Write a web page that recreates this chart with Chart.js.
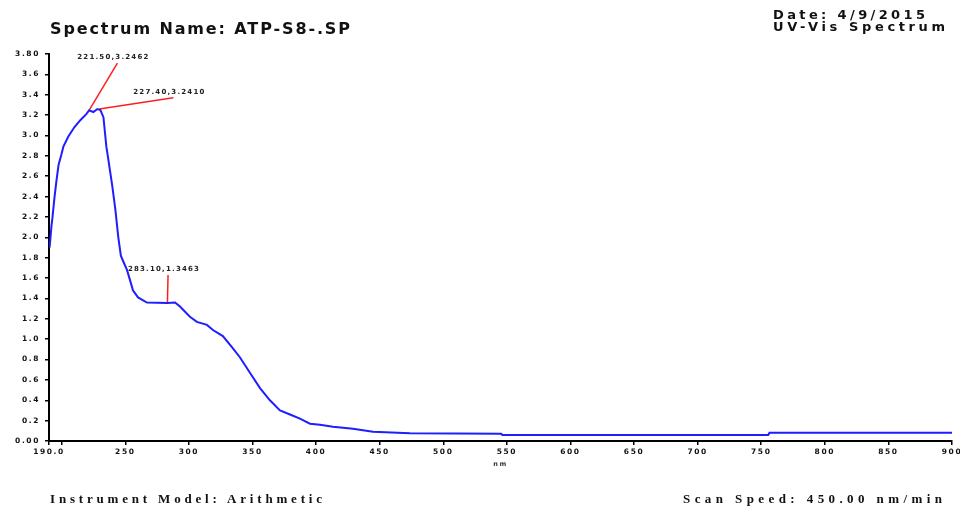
<!DOCTYPE html>
<html>
<head>
<meta charset="utf-8">
<script src="https://cdn.jsdelivr.net/npm/chart.js@4"></script>
<style>
  html, body { margin: 0; padding: 0; background: #fff; }
  #wrap { position: relative; width: 960px; height: 506px; overflow: hidden; }
  canvas { position: absolute; left: 0; top: 0; }
  .txt { position: absolute; white-space: nowrap; line-height: 1; color: #111; }
  .sans { font-family: "DejaVu Sans", sans-serif; font-weight: bold; }
  .serif { font-family: "Liberation Serif", serif; font-weight: bold; }
</style>
</head>
<body>
<div id="wrap">
  <canvas id="c" width="960" height="506"></canvas>
  <div class="txt sans" id="t1" data-w="300" style="left:50px; top:21px; font-size:16px;">Spectrum Name: ATP-S8-.SP</div>
  <div class="txt sans" id="t2" data-w="152" style="left:773px; top:8px; font-size:13px;">Date: 4/9/2015</div>
  <div class="txt sans" id="t3" data-w="172" style="left:773px; top:20px; font-size:13px;">UV-Vis Spectrum</div>
  <div class="txt serif" id="t4" data-w="272" style="left:50px; top:492px; font-size:13px;">Instrument Model: Arithmetic</div>
  <div class="txt serif" id="t5" data-w="259" style="left:683px; top:492px; font-size:13px;">Scan Speed: 450.00 nm/min</div>
</div>
<script>
// ---- data ----
const wavelengths = [190.5, 192.0, 192.7, 194.3, 195.9, 197.5, 199.7, 201.3, 205.2, 209.9, 214.6, 219.3, 221.5, 224.9, 228.0, 230.4, 232.8, 235.1, 236.7, 239.8, 242.2, 244.5, 246.5, 248.5, 251.3, 253.7, 256.0, 260.0, 267.0, 283.1, 289.1, 293.0, 300.8, 306.3, 314.2, 318.9, 326.7, 334.6, 340.2, 348.0, 355.9, 363.7, 371.6, 379.5, 387.3, 395.2, 403.0, 413.3, 429.0, 444.7, 473.8, 545.5, 546.5, 755.5, 756.5, 900.0];
const absorbance  = [1.90, 2.12, 2.19, 2.39, 2.56, 2.71, 2.81, 2.89, 2.99, 3.08, 3.15, 3.21, 3.246, 3.23, 3.26, 3.25, 3.18, 2.89, 2.76, 2.50, 2.27, 2.00, 1.82, 1.76, 1.68, 1.58, 1.48, 1.41, 1.36, 1.356, 1.36, 1.32, 1.22, 1.17, 1.14, 1.09, 1.03, 0.91, 0.82, 0.67, 0.52, 0.40, 0.30, 0.26, 0.22, 0.17, 0.16, 0.14, 0.12, 0.09, 0.075, 0.07, 0.06, 0.06, 0.08, 0.08];

const xTickValues = [190, 200, 250, 300, 350, 400, 450, 500, 550, 600, 650, 700, 750, 800, 850, 900];
const xTickLabels = ["190.0", "", "250", "300", "350", "400", "450", "500", "550", "600", "650", "700", "750", "800", "850", "900"];
const yTickLabels = ["0.00", "0.2", "0.4", "0.6", "0.8", "1.0", "1.2", "1.4", "1.6", "1.8", "2.0", "2.2", "2.4", "2.6", "2.8", "3.0", "3.2", "3.4", "3.6", "3.80"];

// peak annotations: start point on curve, end point of leader line, label
const annoX0 = [221.5, 229.5, 283.1];
const annoY0 = [3.246, 3.26, 1.356];
const annoX1 = [243.8, 287.8, 283.6];
const annoY1 = [3.71, 3.37, 1.63];
const annoText = ["221.50,3.2462", "227.40,3.2410", "283.10,1.3463"];

// ---- chart ----
const datasets = [{
  data: wavelengths.map((x, i) => ({ x: x, y: absorbance[i] })),
  borderColor: 'rgb(30,30,255)',
  borderWidth: 2,
  pointRadius: 0,
  tension: 0,
  fill: false
}];
annoText.forEach((t, i) => {
  datasets.push({
    data: [{ x: annoX0[i], y: annoY0[i] }, { x: annoX1[i], y: annoY1[i] }],
    borderColor: 'rgb(255,30,30)',
    borderWidth: 1.5,
    pointRadius: 0,
    tension: 0,
    fill: false
  });
});

const spacingPlugin = {
  id: 'spacing',
  beforeLayout(chart) { chart.ctx.letterSpacing = '1.6px'; },
  beforeDraw(chart) { chart.ctx.letterSpacing = '1.6px'; }
};

const annoLabelPlugin = {
  id: 'annoLabels',
  afterDatasetsDraw(chart) {
    const ctx = chart.ctx;
    ctx.save();
    ctx.letterSpacing = '1.2px';
    ctx.font = 'bold 7px "DejaVu Sans"';
    ctx.fillStyle = '#222';
    ctx.textAlign = 'center';
    ctx.textBaseline = 'alphabetic';
    annoText.forEach((t, i) => {
      const pt = chart.getDatasetMeta(i + 1).data[1];
      ctx.fillText(t, pt.x - 4, pt.y - 4);
    });
    ctx.restore();
  }
};

new Chart(document.getElementById('c'), {
  type: 'line',
  data: { datasets: datasets },
  options: {
    responsive: false,
    devicePixelRatio: 1,
    animation: false,
    layout: { padding: { top: 54, right: 0, bottom: 0, left: 0 } },
    plugins: { legend: { display: false }, tooltip: { enabled: false }, title: { display: false } },
    scales: {
      x: {
        type: 'linear',
        min: 190,
        max: 900,
        afterBuildTicks(scale) { scale.ticks = xTickValues.map(v => ({ value: v })); },
        afterFit(scale) { scale.height = 65; scale.paddingLeft = 0; scale.paddingRight = 8; },
        border: { display: true, color: '#000', width: 2 },
        grid: { display: true, drawOnChartArea: false, drawTicks: true, tickLength: 4, color: '#000', lineWidth: 1.5 },
        ticks: {
          autoSkip: false, maxRotation: 0, minRotation: 0, padding: 3,
          color: '#111',
          font: { family: 'DejaVu Sans', weight: 'bold', size: 7.5 },
          callback: (v, i) => xTickLabels[i]
        },
        title: {
          display: true, text: 'nm', color: '#333',
          font: { family: 'DejaVu Sans', weight: 'bold', size: 6.5 },
          padding: { top: 0, bottom: 38 }
        }
      },
      y: {
        type: 'linear',
        min: 0,
        max: 3.8,
        afterBuildTicks(scale) { scale.ticks = yTickLabels.map((l, i) => ({ value: i * 0.2 })); },
        afterFit(scale) { scale.width = 49; scale.paddingTop = 0; scale.paddingBottom = 0; },
        border: { display: true, color: '#000', width: 2 },
        grid: { display: true, drawOnChartArea: false, drawTicks: true, tickLength: 4, color: '#000', lineWidth: 1.5 },
        ticks: {
          autoSkip: false, padding: 5,
          color: '#111',
          font: { family: 'DejaVu Sans', weight: 'bold', size: 7.5 },
          callback: (v, i) => yTickLabels[i]
        }
      }
    }
  },
  plugins: [spacingPlugin, annoLabelPlugin]
});

// fit header/footer text widths with letter spacing
document.querySelectorAll('.txt').forEach(el => {
  const target = parseFloat(el.dataset.w);
  const n = el.textContent.length;
  const w = el.getBoundingClientRect().width;
  el.style.letterSpacing = ((target - w) / Math.max(n - 1, 1)) + 'px';
});
</script>
</body>
</html>
